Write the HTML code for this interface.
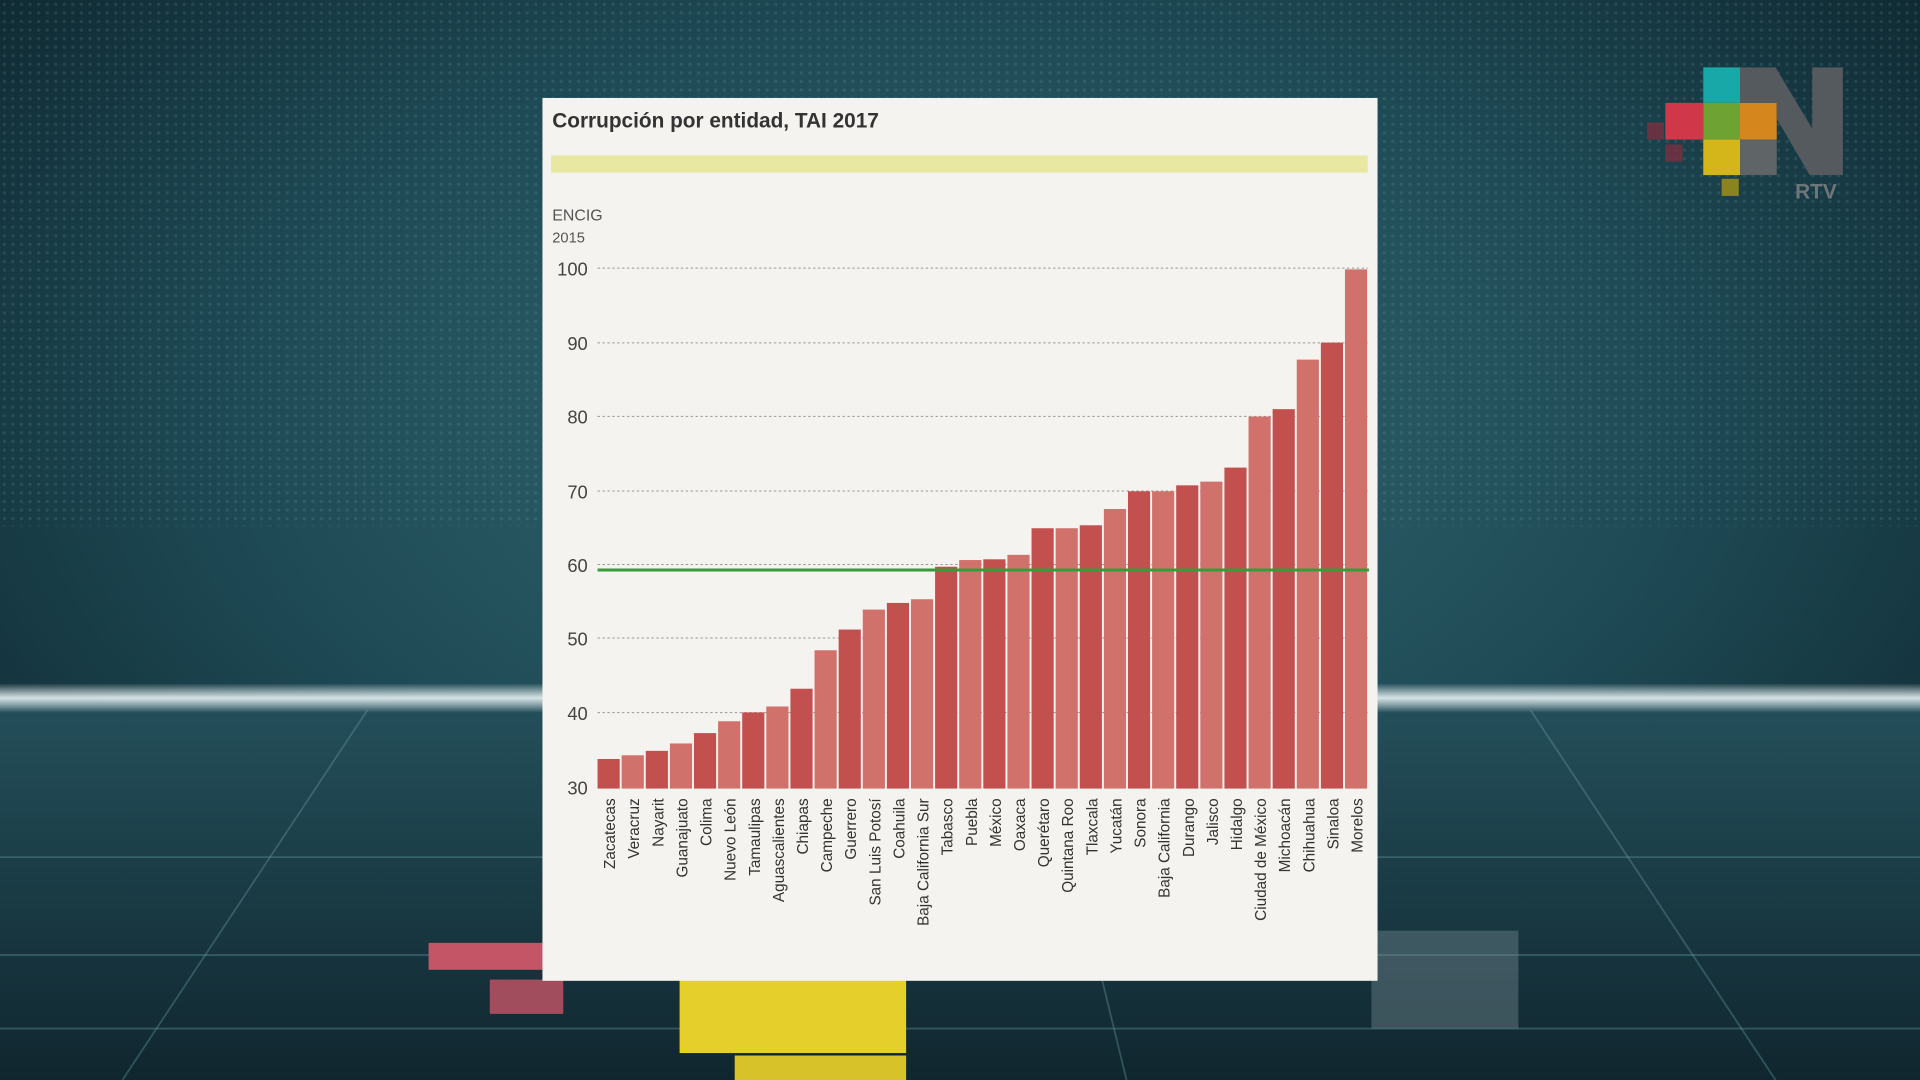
<!DOCTYPE html>
<html><head><meta charset="utf-8"><style>
html,body{margin:0;padding:0;width:1920px;height:1080px;overflow:hidden;background:#0f2a33}
svg{display:block}
text{font-family:"Liberation Sans",sans-serif}
</style></head><body>
<svg width="1920" height="1080" viewBox="0 0 1568 882" xmlns="http://www.w3.org/2000/svg">
<defs>
<radialGradient id="bg" cx="0.5" cy="0.4" r="0.75">
<stop offset="0" stop-color="#346873"/><stop offset="0.5" stop-color="#1e4a55"/><stop offset="1" stop-color="#0a1d25"/>
</radialGradient>
<linearGradient id="fl" x1="0" y1="0" x2="0" y2="1">
<stop offset="0" stop-color="#24505b"/><stop offset="1" stop-color="#10262f"/>
</linearGradient>
<linearGradient id="glow" x1="0" y1="0" x2="0" y2="1">
<stop offset="0" stop-color="#fff" stop-opacity="0"/><stop offset="0.5" stop-color="#e8f4f6" stop-opacity="0.9"/><stop offset="1" stop-color="#fff" stop-opacity="0"/>
</linearGradient>
<pattern id="dots" width="7" height="7" patternUnits="userSpaceOnUse"><circle cx="3.5" cy="3.5" r="1.4" fill="#8fc4cc" opacity="0.45"/></pattern>
</defs>
<rect width="1568" height="882" fill="url(#bg)"/>
<rect x="0" y="0" width="1568" height="430" fill="url(#dots)" opacity="0.3"/>
<rect x="0" y="570" width="1568" height="312" fill="url(#fl)"/>
<g stroke="#6fa3ad" stroke-opacity="0.35" stroke-width="1.5">
<line x1="0" y1="700" x2="1568" y2="700"/><line x1="0" y1="780" x2="1568" y2="780"/><line x1="0" y1="840" x2="1568" y2="840"/>
<line x1="300" y1="580" x2="100" y2="882"/><line x1="1250" y1="580" x2="1450" y2="882"/><line x1="900" y1="800" x2="920" y2="882"/>
</g>
<rect x="0" y="558" width="1568" height="24" fill="url(#glow)"/>
<rect x="350" y="770" width="95" height="22" fill="#c45566"/>
<rect x="400" y="800" width="60" height="28" fill="#c45566" opacity="0.8"/>
<rect x="555" y="800" width="185" height="60" fill="#e5cf2a"/>
<rect x="600" y="862" width="140" height="20" fill="#d8c22a"/>
<rect x="1120" y="760" width="120" height="80" fill="#7a8f95" opacity="0.4"/>
<g>
<rect x="1391" y="55" width="30" height="29" fill="#19a8a8"/>
<rect x="1360" y="84" width="31" height="30" fill="#d0384a"/>
<rect x="1391" y="84" width="30" height="30" fill="#6ea232"/>
<rect x="1421" y="84" width="30" height="30" fill="#d5861c"/>
<rect x="1391" y="114" width="30" height="29" fill="#d4b51a"/>
<rect x="1421" y="114" width="30" height="29" fill="#5f6467"/>
<rect x="1406" y="146" width="14" height="14" fill="#8a8420"/>
<rect x="1345" y="100" width="14" height="14" fill="#7a3040" opacity="0.8"/>
<rect x="1360" y="118" width="14" height="14" fill="#7a3040" opacity="0.8"/>
<path d="M1421 55 H1450 L1480 105 V55 H1505 V143 H1478 L1451 97 V84 H1421 Z" fill="#555a5e"/>
<text x="1466" y="162" font-size="17" font-weight="bold" fill="#70757a">RTV</text>
</g>
<rect x="443" y="80" width="682" height="721" fill="#f4f3ef"/>
<text x="451" y="104" font-size="17" font-weight="bold" fill="#333">Corrupción por entidad, TAI 2017</text>
<rect x="450" y="127" width="667" height="14" fill="#e9e8a3"/>
<text x="451" y="180" font-size="13" fill="#555">ENCIG</text>
<text x="451" y="198" font-size="12" fill="#555">2015</text>
<g stroke="#999" stroke-width="0.8" stroke-dasharray="2,2">
<line x1="488" y1="219" x2="1117" y2="219"/><line x1="488" y1="280" x2="1117" y2="280"/>
<line x1="488" y1="340" x2="1117" y2="340"/><line x1="488" y1="401" x2="1117" y2="401"/>
<line x1="488" y1="461" x2="1117" y2="461"/><line x1="488" y1="521" x2="1117" y2="521"/>
<line x1="488" y1="582" x2="1117" y2="582"/>
</g>
<g font-size="15" fill="#444" text-anchor="end">
<text x="480" y="225">100</text><text x="480" y="286">90</text><text x="480" y="346">80</text>
<text x="480" y="407">70</text><text x="480" y="467">60</text><text x="480" y="527">50</text>
<text x="480" y="588">40</text><text x="480" y="649">30</text>
</g>
<g id="bars"></g>
<line x1="488" y1="465.5" x2="1118" y2="465.5" stroke="#3a9a3a" stroke-width="2.5"/>
<g id="labels" font-size="12.5" fill="#333"></g>
</svg>
<script>
const d=[["Zacatecas",34],["Veracruz",34.5],["Nayarit",35.1],["Guanajuato",36.1],["Colima",37.5],["Nuevo León",39.1],["Tamaulipas",40.3],["Aguascalientes",41.1],["Chiapas",43.5],["Campeche",48.7],["Guerrero",51.5],["San Luis Potosí",54.2],["Coahuila",55.1],["Baja California Sur",55.6],["Tabasco",60],["Puebla",60.9],["México",61],["Oaxaca",61.6],["Querétaro",65.2],["Quintana Roo",65.2],["Tlaxcala",65.6],["Yucatán",67.8],["Sonora",70.2],["Baja California",70.2],["Durango",71],["Jalisco",71.5],["Hidalgo",73.4],["Ciudad de México",80.3],["Michoacán",81.3],["Chihuahua",88],["Sinaloa",90.3],["Morelos",100.2]];
const ns="http://www.w3.org/2000/svg",b=document.getElementById("bars"),l=document.getElementById("labels");
const x0=488,w=19.69,base=644,k=6.04;
d.forEach((e,i)=>{const r=document.createElementNS(ns,"rect");const y=base-(e[1]-30)*k;
r.setAttribute("x",x0+i*w);r.setAttribute("y",y);r.setAttribute("width",w-1.6);r.setAttribute("height",base-y);
r.setAttribute("fill",i%2?"#d0716b":"#c2504e");b.appendChild(r);
const t=document.createElementNS(ns,"text");const cx=x0+i*w+w/2+4.5;
t.setAttribute("transform",`translate(${cx},652) rotate(-90)`);t.setAttribute("text-anchor","end");t.textContent=e[0];l.appendChild(t);});
</script>
</body></html>
